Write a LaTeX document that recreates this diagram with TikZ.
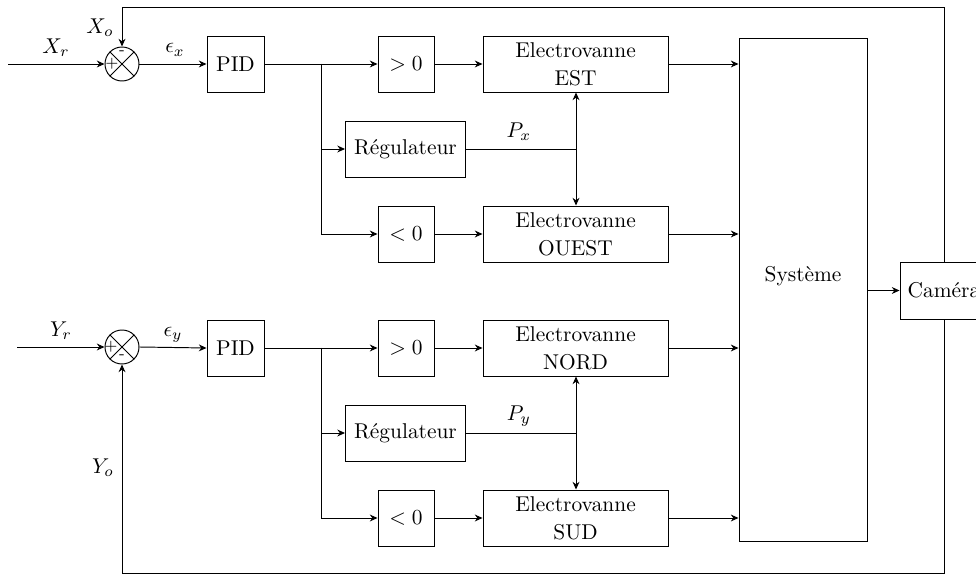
\documentclass[tikz,border=0pt]{standalone}
\usetikzlibrary{arrows.meta,calc}
\begin{document}
\begin{tikzpicture}[x=0.467pt,y=-0.467pt,
  line width=0.45pt,
  arr/.style={-{Stealth[length=3.6pt,width=3.2pt]}},
  blk/.style={draw, rectangle, minimum width={#1*0.467pt}, minimum height={56*0.467pt}, inner sep=2pt, align=center},
  sumc/.style={draw, circle, minimum size={34*0.467pt}, inner sep=0pt},
  sgn/.style={font=\scriptsize, inner sep=0pt}]
\clip (0,0) rectangle (976,574);
% summing junctions
\node[sumc] (sx) at (122,64) {};
\draw (sx.45) -- (sx.225) (sx.135) -- (sx.315);
\node[sgn] (sxm) at (122,53) {-};
\node[sgn] (sxp) at (112,64) {+};
\node[sumc] (sy) at (122,347) {};
\draw (sy.45) -- (sy.225) (sy.135) -- (sy.315);
\node[sgn] (syp) at (111,347) {+};
\node[sgn] (sym) at (122,357) {-};
% top row blocks
\node[blk=57] (pidx) at (235.5,64) {PID};
\node[blk=56] (gtx) at (406,64) {$>0$};
\node[blk=185] (estx) at (575.5,64) {Electrovanne\\[1pt]EST};
\node[blk=120] (regx) at (405.5,149) {Régulateur};
\node[blk=56] (ltx) at (406,234) {$<0$};
\node[blk=185] (ouestx) at (575.5,234) {Electrovanne\\[1pt]OUEST};
% bottom row blocks
\node[blk=57] (pidy) at (235.5,348) {PID};
\node[blk=56] (gty) at (406,348) {$>0$};
\node[blk=185] (nordy) at (575.5,348) {Electrovanne\\[1pt]NORD};
\node[blk=120] (regy) at (405.5,433) {Régulateur};
\node[blk=56] (lty) at (406,518) {$<0$};
\node[blk=185] (sudy) at (575.5,518) {Electrovanne\\[1pt]SUD};
% system and camera
\node[draw, rectangle, minimum width={128*0.467pt}, minimum height={503*0.467pt}, inner sep=0pt] (sys) at (803,289.5) {};
\node (systxt) at (803,276) {Système};
\node[blk=88, minimum height={57*0.467pt}] (cam) at (944,290.5) {Caméra};
% labels
\node (lxr) at (56,48) {$X_r$};
\node (lxo) at (100,28) {$X_o$};
\node (lex) at (175,50) {$\epsilon_x$};
\node (lpx) at (519,132) {$P_x$};
\node (lyr) at (61,331) {$Y_r$};
\node (lyo) at (103,468) {$Y_o$};
\node (ley) at (173,335) {$\epsilon_y$};
\node (lpy) at (519,416) {$P_y$};
% coordinates
\coordinate (xin) at (8,64);
\coordinate (yin) at (17,347);
\coordinate (bx) at (321,64);
\coordinate (by) at (321,348);
\coordinate (jx) at (576,149);
\coordinate (jy) at (576,433);
\coordinate (tl) at (122,7);
\coordinate (bl) at (122,573);
% top connectors
\draw[arr] (xin) -- (sx.west);
\draw[arr] (sx.east) -- (pidx.west);
\draw[arr] (pidx.east) -- (gtx.west);
\draw[arr] (bx) |- (regx.west);
\draw[arr] (bx) |- (ltx.west);
\draw[arr] (gtx.east) -- (estx.west);
\draw[arr] (ltx.east) -- (ouestx.west);
\draw (regx.east) -- (jx);
\draw[arr] (jx) -- (jx |- estx.south);
\draw[arr] (jx) -- (jx |- ouestx.north);
\draw[arr] (estx.east) -- (estx.east -| sys.west);
\draw[arr] (ouestx.east) -- (ouestx.east -| sys.west);
% bottom connectors
\draw[arr] (yin) -- (sy.west);
\draw[arr] (sy.east) -- (pidy.west);
\draw[arr] (pidy.east) -- (gty.west);
\draw[arr] (by) |- (regy.west);
\draw[arr] (by) |- (lty.west);
\draw[arr] (gty.east) -- (nordy.west);
\draw[arr] (lty.east) -- (sudy.west);
\draw (regy.east) -- (jy);
\draw[arr] (jy) -- (jy |- nordy.south);
\draw[arr] (jy) -- (jy |- sudy.north);
\draw[arr] (nordy.east) -- (nordy.east -| sys.west);
\draw[arr] (sudy.east) -- (sudy.east -| sys.west);
% system to camera and feedback
\draw[arr] (sys.east |- cam.west) -- (cam.west);
\draw[arr] (cam.north) |- (tl) -- (sx.north);
\draw[arr] (cam.south) |- (bl) -- (sy.south);
\end{tikzpicture}
\end{document}
